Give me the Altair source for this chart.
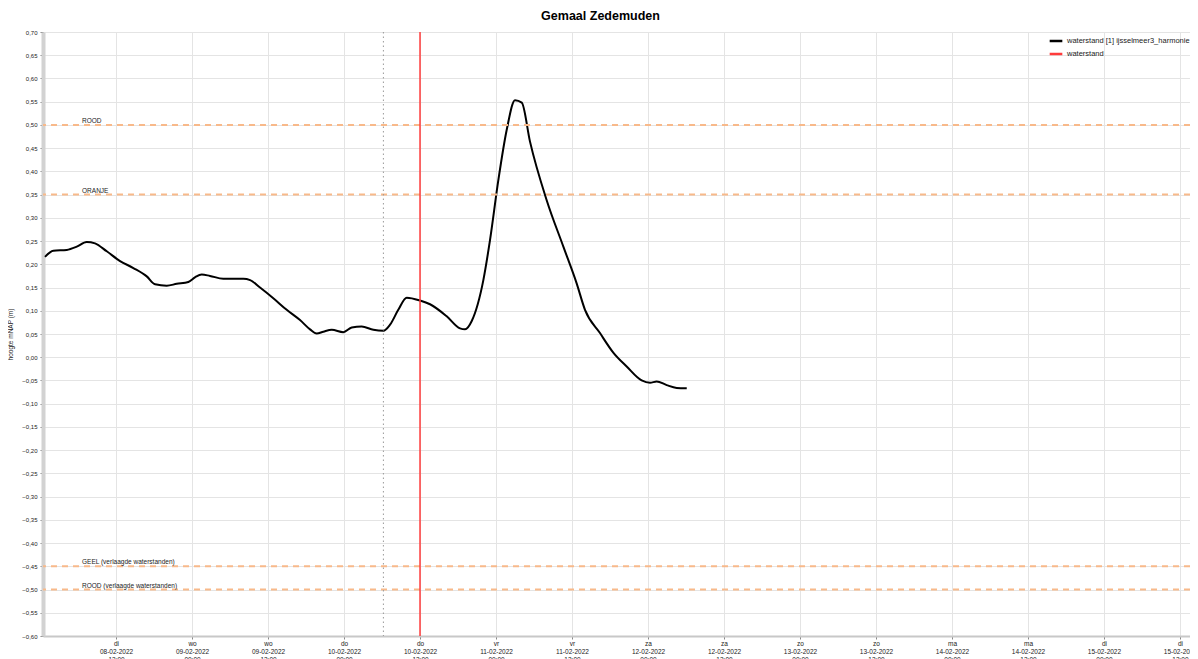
import altair as alt
import pandas as pd

# ---- data ----
times = [
    "2022-02-08T00:47", "2022-02-08T02:06", "2022-02-08T04:13", "2022-02-08T05:48",
    "2022-02-08T07:22", "2022-02-08T08:41", "2022-02-08T10:32", "2022-02-08T12:38",
    "2022-02-08T14:44", "2022-02-08T16:51", "2022-02-08T18:10", "2022-02-08T20:00",
    "2022-02-08T21:35", "2022-02-08T23:25", "2022-02-09T00:28", "2022-02-09T01:32",
    "2022-02-09T02:50", "2022-02-09T04:56", "2022-02-09T08:06", "2022-02-09T09:10",
    "2022-02-09T10:44", "2022-02-09T12:50", "2022-02-09T14:57", "2022-02-09T17:03",
    "2022-02-09T18:38", "2022-02-09T19:41", "2022-02-09T20:44", "2022-02-09T22:04",
    "2022-02-09T23:53", "2022-02-10T01:13", "2022-02-10T02:47", "2022-02-10T04:38",
    "2022-02-10T06:13", "2022-02-10T07:16", "2022-02-10T08:34", "2022-02-10T09:54",
    "2022-02-10T12:00", "2022-02-10T13:35", "2022-02-10T16:13", "2022-02-10T18:19",
    "2022-02-10T19:07", "2022-02-10T20:10", "2022-02-10T22:00", "2022-02-10T23:03",
    "2022-02-11T00:22", "2022-02-11T01:41", "2022-02-11T03:00", "2022-02-11T04:04",
    "2022-02-11T05:22", "2022-02-11T08:00", "2022-02-11T10:38", "2022-02-11T12:44",
    "2022-02-11T14:03", "2022-02-11T16:25", "2022-02-11T18:31", "2022-02-11T20:38",
    "2022-02-11T23:00", "2022-02-12T00:19", "2022-02-12T01:22", "2022-02-12T02:57",
    "2022-02-12T04:32", "2022-02-12T06:07",
]
values = [
    0.216, 0.229, 0.231, 0.238, 0.248, 0.245, 0.228, 0.207,
    0.192, 0.174, 0.157, 0.154, 0.158, 0.162, 0.172, 0.178,
    0.175, 0.169, 0.169, 0.166, 0.150, 0.127, 0.102, 0.080,
    0.060, 0.051, 0.055, 0.059, 0.054, 0.064, 0.066, 0.059,
    0.057, 0.070, 0.102, 0.128, 0.122, 0.114, 0.088, 0.062,
    0.060, 0.078, 0.166, 0.252, 0.381, 0.489, 0.553, 0.548,
    0.464, 0.338, 0.238, 0.159, 0.102, 0.052, 0.010, -0.020,
    -0.050, -0.055, -0.052, -0.060, -0.066, -0.067,
]

series_names = ["waterstand [1] ijsselmeer3_harmonie", "waterstand"]
series_colors = ["#000000", "#ff3b3b"]

now_time = "2022-02-10T12:00"      # red vertical line
forecast_time = "2022-02-10T06:13"  # dotted grey line

threshold_levels = [0.50, 0.35, -0.45, -0.50]
threshold_labels = ["ROOD", "ORANJE", "GEEL (verlaagde waterstanden)", "ROOD (verlaagde waterstanden)"]
threshold_label_time = "2022-02-08T06:38"

tick_times = [
    "2022-02-08T12:00", "2022-02-09T00:00", "2022-02-09T12:00", "2022-02-10T00:00",
    "2022-02-10T12:00", "2022-02-11T00:00", "2022-02-11T12:00", "2022-02-12T00:00",
    "2022-02-12T12:00", "2022-02-13T00:00", "2022-02-13T12:00", "2022-02-14T00:00",
    "2022-02-14T12:00", "2022-02-15T00:00", "2022-02-15T12:00",
]
x_start = "2022-02-08T00:28"
x_end = "2022-02-15T13:35"
y_ticks = [round(-0.60 + 0.05 * i, 2) for i in range(27)]

# ---- build tables ----
def utc(s):
    return s + ":00Z"

def dt(s):
    return alt.DateTime(year=int(s[0:4]), month=int(s[5:7]), date=int(s[8:10]),
                        hours=int(s[11:13]), minutes=int(s[14:16]), utc=True)

df_line = pd.DataFrame({"t": [utc(t) for t in times], "v": values, "serie": series_names[0]})
df_now = pd.DataFrame({"t": [utc(now_time)], "serie": [series_names[1]]})
df_fc = pd.DataFrame({"t": [utc(forecast_time)]})
df_thr = pd.DataFrame({"v": threshold_levels, "label": threshold_labels,
                       "t": [utc(threshold_label_time)] * len(threshold_levels)})

tick_vals = [dt(s) for s in tick_times]

x_scale = alt.Scale(type="utc", domain=[dt(x_start), dt(x_end)])
y_scale = alt.Scale(domain=[-0.60, 0.70], nice=False, zero=False)
color_scale = alt.Scale(domain=series_names, range=series_colors)

x_axis = alt.Axis(
    values=tick_vals,
    labelExpr="[['zo','ma','di','wo','do','vr','za'][utcday(datum.value)], utcFormat(datum.value, '%d-%m-%Y'), utcFormat(datum.value, '%H:%M')]",
    labelFontSize=6.5, labelLineHeight=8, labelPadding=1, labelColor="#222222",
    labelFont="Liberation Sans",
    tickSize=3, tickColor="#888888", domainColor="#c8c8c8", domainWidth=2,
    gridColor="#e4e4e4", gridWidth=1, title=None, labelOverlap=False, labelFlush=False,
)
y_axis = alt.Axis(
    values=y_ticks,
    labelExpr="replace(format(datum.value, '.2f'), '.', ',')",
    labelFontSize=6, labelColor="#222222", labelFont="Liberation Sans", labelPadding=3,
    labelOverlap=False, labelFlush=False,
    tickSize=3, tickColor="#888888", domainColor="#d2d2d2", domainWidth=4,
    gridColor="#e4e4e4", gridWidth=1,
    title="hoogte mNAP (m)", titleFontSize=6.5, titleFont="Liberation Sans",
    titleFontWeight="normal", titleColor="#222222", titlePadding=8,
)

line = alt.Chart(df_line).mark_line(strokeWidth=2, interpolate="monotone").encode(
    x=alt.X("t:T", scale=x_scale, axis=x_axis),
    y=alt.Y("v:Q", scale=y_scale, axis=y_axis),
    color=alt.Color("serie:N", scale=color_scale, legend=alt.Legend(
        orient="none", legendX=1005, legendY=1, title=None, symbolType="stroke",
        symbolStrokeWidth=2.5, symbolSize=160, labelFontSize=7.5, labelFont="Liberation Sans",
        labelColor="#222222", labelLimit=0, rowPadding=0, symbolOffset=0, labelOffset=3,
        padding=0,
    )),
)

now_rule = alt.Chart(df_now).mark_rule(strokeWidth=1.5).encode(
    x=alt.X("t:T", scale=x_scale, axis=x_axis),
    color=alt.Color("serie:N", scale=color_scale),
)

fc_rule = alt.Chart(df_fc).mark_rule(strokeWidth=1, strokeDash=[1.5, 3], color="#9a9a9a").encode(
    x=alt.X("t:T", scale=x_scale, axis=x_axis),
)

thr_rule = alt.Chart(df_thr).mark_rule(strokeWidth=2, strokeDash=[6, 5], color="#f8b98a").encode(
    y=alt.Y("v:Q", scale=y_scale, axis=y_axis),
)

thr_text = alt.Chart(df_thr).mark_text(align="left", baseline="bottom", dy=-1, fontSize=6.5,
                                        font="Liberation Sans", color="#222222").encode(
    x=alt.X("t:T", scale=x_scale, axis=x_axis),
    y=alt.Y("v:Q", scale=y_scale, axis=y_axis),
    text="label:N",
)

chart = alt.layer(line, thr_rule, fc_rule, now_rule, thr_text).properties(
    width=1147,
    height=604,
    title=alt.TitleParams("Gemaal Zedemuden", fontSize=12.5, font="Liberation Sans",
                          fontWeight="bold", color="#000000", anchor="middle", offset=7, dx=-16),
    autosize=alt.AutoSizeParams(type="none"),
    padding={"left": 35, "top": 24, "right": 0, "bottom": 23},
).configure_view(stroke="#c8c8c8", strokeWidth=1.5).configure(background="#ffffff")

chart.save("out.html", embed_options={"renderer": "svg", "actions": False})
